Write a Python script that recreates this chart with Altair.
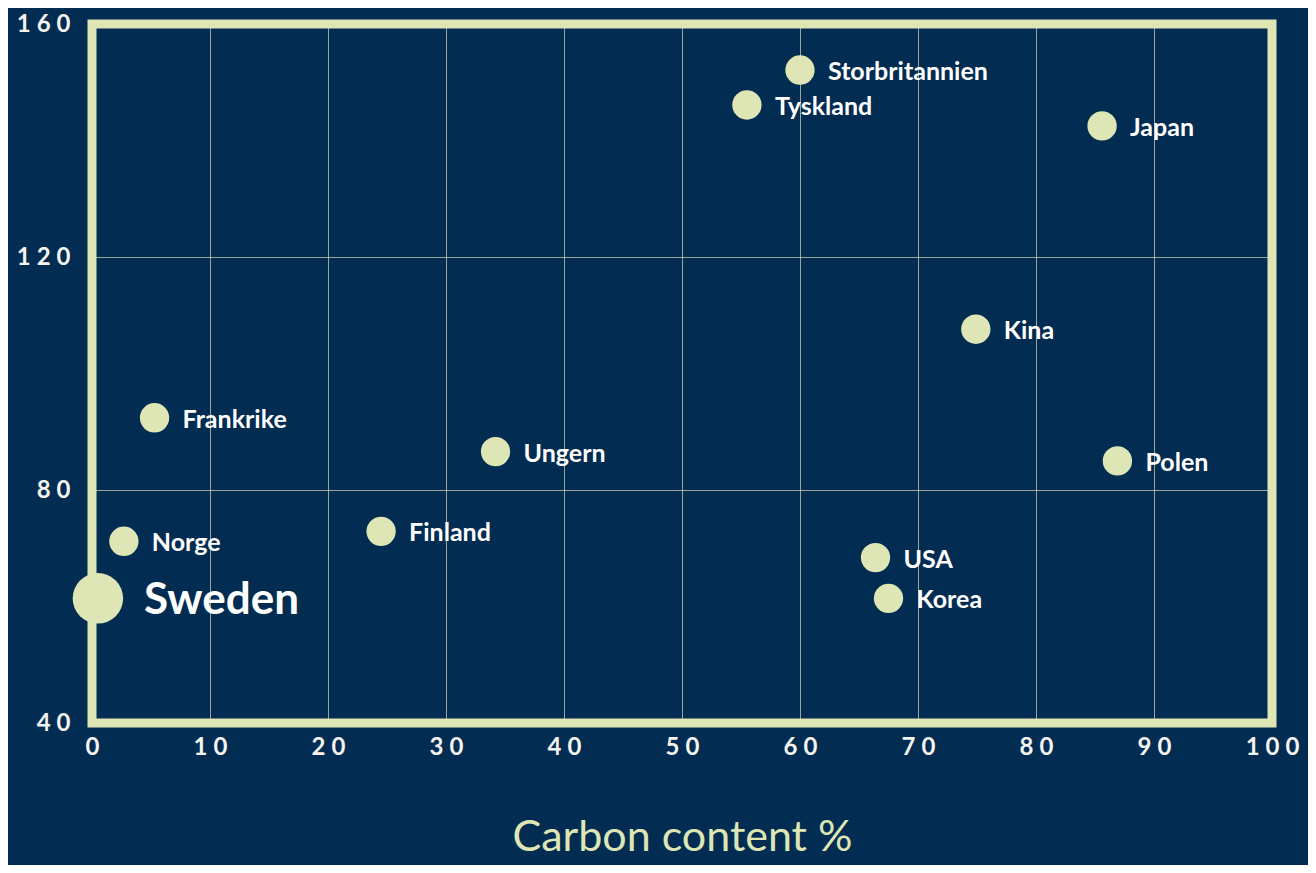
import altair as alt
import pandas as pd

countries = ["Storbritannien", "Tyskland", "Japan", "Kina", "Frankrike", "Ungern",
             "Polen", "Finland", "Norge", "USA", "Korea", "Sweden"]
carbon = [60.0, 55.5, 85.6, 74.9, 5.3, 34.2, 86.9, 24.5, 2.7, 66.4, 67.5, 0.5]
yvalue = [152.1, 146.1, 142.5, 107.6, 92.4, 86.6, 85.0, 72.9, 71.2, 68.4, 61.4, 61.4]
x_ticks = [0, 10, 20, 30, 40, 50, 60, 70, 80, 90, 100]
y_ticks = [40, 80, 120, 160]

BG = "#022c51"
GREEN = "#dee6b5"
HL = "Sweden"

df = pd.DataFrame({"country": countries, "carbon": carbon, "value": yvalue})
frame_df = pd.DataFrame({"x0": [x_ticks[0]], "x1": [x_ticks[-1]],
                         "y0": [y_ticks[0]], "y1": [y_ticks[-1]]})

xs = alt.Scale(domain=[x_ticks[0], x_ticks[-1]], nice=False, zero=False)
ys = alt.Scale(domain=[y_ticks[0], y_ticks[-1]], nice=False, zero=False)

spaced = "join(split(datum.label, ''), '\u2005')"

xaxis = alt.Axis(values=x_ticks, title="Carbon content %", domain=False, ticks=False,
                 labelExpr=spaced, labelPadding=12, labelFont="Lato", labelFontSize=24,
                 labelFontWeight="bold", labelColor="#f4f4f0", labelFlush=False,
                 gridColor="#c9d2b4", gridOpacity=0.75, gridWidth=1,
                 titleFont="Lato", titleFontSize=43, titleFontWeight="normal",
                 titleColor=GREEN, titlePadding=57)
yaxis = alt.Axis(values=y_ticks, title=None, domain=False, ticks=False,
                 labelExpr=spaced, labelPadding=22, labelFont="Lato", labelFontSize=24,
                 labelFontWeight="bold", labelColor="#f4f4f0", labelFlush=False,
                 gridColor="#c9d2b4", gridOpacity=0.75, gridWidth=1)

base = alt.Chart(df)

grid = base.mark_point(opacity=0).encode(
    x=alt.X("carbon:Q", scale=xs, axis=xaxis),
    y=alt.Y("value:Q", scale=ys, axis=yaxis),
)

frame = alt.Chart(frame_df).mark_rect(fill=None, stroke=GREEN, strokeWidth=9).encode(
    x=alt.X("x0:Q", scale=xs), x2="x1:Q",
    y=alt.Y("y0:Q", scale=ys), y2="y1:Q",
)

dots = base.mark_circle(color=GREEN, opacity=1).encode(
    x=alt.X("carbon:Q", scale=xs),
    y=alt.Y("value:Q", scale=ys),
    size=alt.condition(alt.datum.country == HL, alt.value(2550), alt.value(860)),
)

labels = base.transform_filter(alt.datum.country != HL).mark_text(
    align="left", baseline="middle", dx=28, dy=2, font="Lato", fontSize=25,
    fontWeight="bold", color="#ffffff",
).encode(x=alt.X("carbon:Q", scale=xs), y=alt.Y("value:Q", scale=ys), text="country:N")

big_label = base.transform_filter(alt.datum.country == HL).mark_text(
    align="left", baseline="middle", dx=46, dy=3, font="Lato", fontSize=44,
    fontWeight="bold", color="#ffffff",
).encode(x=alt.X("carbon:Q", scale=xs), y=alt.Y("value:Q", scale=ys), text="country:N")

chart = alt.layer(grid, frame, dots, labels, big_label).properties(
    width=1180, height=699,
    autosize="none",
    padding={"left": 84, "top": 16, "right": 36, "bottom": 142},
    background=BG,
).configure_view(stroke=None)

chart.save("out.html", embed_options={"renderer": "svg", "actions": False})
